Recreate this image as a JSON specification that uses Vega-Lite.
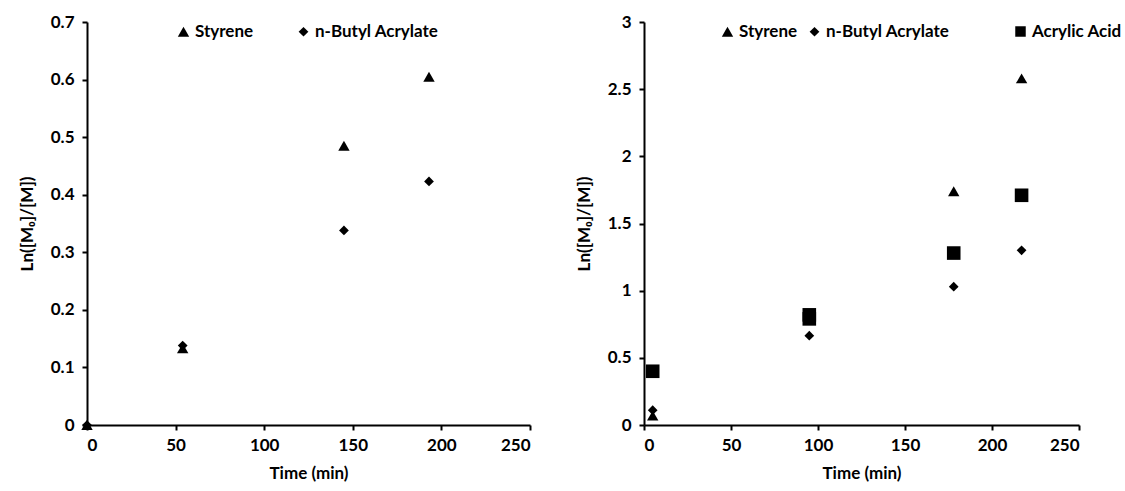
{
  "$schema": "https://vega.github.io/schema/vega-lite/v6.json",
  "background": "white",
  "padding": {"left": 18, "top": 13, "right": 5, "bottom": 2},
  "bounds": "flush",
  "spacing": 114,
  "config": {
    "view": {"stroke": null},
    "font": "Lato",
    "axis": {
      "domainColor": "black", "domainWidth": 2, "tickColor": "black", "tickWidth": 2, "tickSize": 5,
      "grid": false, "labelFont": "Lato", "labelFontWeight": "bold", "labelFontSize": 17, "labelColor": "black",
      "titleFont": "Lato", "titleFontWeight": "bold", "titleFontSize": 17, "titleColor": "black"
    },
    "legend": {
      "labelFont": "Lato", "labelFontWeight": "bold", "labelFontSize": 17, "labelColor": "black", "labelLimit": 300,
      "symbolFillColor": "black", "symbolStrokeColor": "black"
    }
  },
  "datasets": {
    "left": [
      {"time": 0, "value": 0, "monomer": "Styrene"},
      {"time": 54, "value": 0.133, "monomer": "Styrene"},
      {"time": 145, "value": 0.485, "monomer": "Styrene"},
      {"time": 193, "value": 0.605, "monomer": "Styrene"},
      {"time": 0, "value": 0, "monomer": "n-Butyl Acrylate"},
      {"time": 54, "value": 0.138, "monomer": "n-Butyl Acrylate"},
      {"time": 145, "value": 0.338, "monomer": "n-Butyl Acrylate"},
      {"time": 193, "value": 0.423, "monomer": "n-Butyl Acrylate"}
    ],
    "right": [
      {"time": 5, "value": 0.07, "monomer": "Styrene"},
      {"time": 95, "value": 0.8, "monomer": "Styrene"},
      {"time": 178, "value": 1.74, "monomer": "Styrene"},
      {"time": 217, "value": 2.58, "monomer": "Styrene"},
      {"time": 5, "value": 0.11, "monomer": "n-Butyl Acrylate"},
      {"time": 95, "value": 0.665, "monomer": "n-Butyl Acrylate"},
      {"time": 178, "value": 1.03, "monomer": "n-Butyl Acrylate"},
      {"time": 217, "value": 1.3, "monomer": "n-Butyl Acrylate"},
      {"time": 5, "value": 0.4, "monomer": "Acrylic Acid"},
      {"time": 95, "value": 0.82, "monomer": "Acrylic Acid"},
      {"time": 95, "value": 0.79, "monomer": "Acrylic Acid"},
      {"time": 178, "value": 1.28, "monomer": "Acrylic Acid"},
      {"time": 217, "value": 1.71, "monomer": "Acrylic Acid"}
    ]
  },
  "resolve": {"legend": {"shape": "independent", "size": "independent"}, "scale": {"shape": "independent", "size": "independent"}},
  "hconcat": [
    {
      "width": 443, "height": 403,
      "data": {"name": "left"},
      "mark": {"type": "point", "filled": true, "color": "black", "opacity": 1},
      "encoding": {
        "x": {"field": "time", "type": "quantitative", "title": "Time (min)",
              "scale": {"domain": [0, 250], "nice": false},
              "axis": {"values": [0, 50, 100, 150, 200, 250], "labelPadding": 7, "titlePadding": 12}},
        "y": {"field": "value", "type": "quantitative", "title": "Ln([M₀]/[M])",
              "scale": {"domain": [0, 0.7], "nice": false},
              "axis": {"values": [0, 0.1, 0.2, 0.3, 0.4, 0.5, 0.6, 0.7], "format": "~g", "labelPadding": 8, "titlePadding": 14}},
        "shape": {"field": "monomer", "type": "nominal",
                  "scale": {"domain": ["Styrene", "n-Butyl Acrylate"], "range": ["triangle-up", "diamond"]},
                  "legend": {"title": null, "orient": "none", "direction": "horizontal", "legendX": 88, "legendY": 1, "columnPadding": 41, "labelOffset": 3}},
        "size": {"field": "monomer", "type": "nominal",
                 "scale": {"domain": ["Styrene", "n-Butyl Acrylate"], "range": [130, 95]}}
      }
    },
    {
      "width": 435, "height": 403,
      "data": {"name": "right"},
      "resolve": {"scale": {"shape": "independent", "size": "independent"}, "legend": {"shape": "independent", "size": "independent"}},
      "encoding": {
        "x": {"field": "time", "type": "quantitative", "title": "Time (min)",
              "scale": {"domain": [0, 250], "nice": false},
              "axis": {"values": [0, 50, 100, 150, 200, 250], "labelPadding": 7, "titlePadding": 12}},
        "y": {"field": "value", "type": "quantitative", "title": "Ln([M₀]/[M])",
              "scale": {"domain": [0, 3], "nice": false},
              "axis": {"values": [0, 0.5, 1, 1.5, 2, 2.5, 3], "format": "~g", "labelPadding": 8, "titlePadding": 14}}
      },
      "layer": [
        {
          "transform": [{"filter": "datum.monomer != 'Acrylic Acid'"}],
          "mark": {"type": "point", "filled": true, "color": "black", "opacity": 1},
          "encoding": {
            "shape": {"field": "monomer", "type": "nominal",
                      "scale": {"domain": ["Styrene", "n-Butyl Acrylate"], "range": ["triangle-up", "diamond"]},
                      "legend": {"title": null, "orient": "none", "direction": "horizontal", "legendX": 75, "legendY": 1, "columnPadding": 8, "labelOffset": 3}},
            "size": {"field": "monomer", "type": "nominal",
                     "scale": {"domain": ["Styrene", "n-Butyl Acrylate"], "range": [130, 95]}}
          }
        },
        {
          "transform": [{"filter": "datum.monomer == 'Acrylic Acid'"}],
          "mark": {"type": "point", "filled": true, "color": "black", "opacity": 1, "size": 185},
          "encoding": {
            "shape": {"field": "monomer", "type": "nominal",
                      "scale": {"domain": ["Acrylic Acid"], "range": ["square"]},
                      "legend": {"title": null, "orient": "none", "direction": "horizontal", "legendX": 368, "legendY": 1, "labelOffset": 3, "symbolSize": 110}}
          }
        }
      ]
    }
  ]
}
